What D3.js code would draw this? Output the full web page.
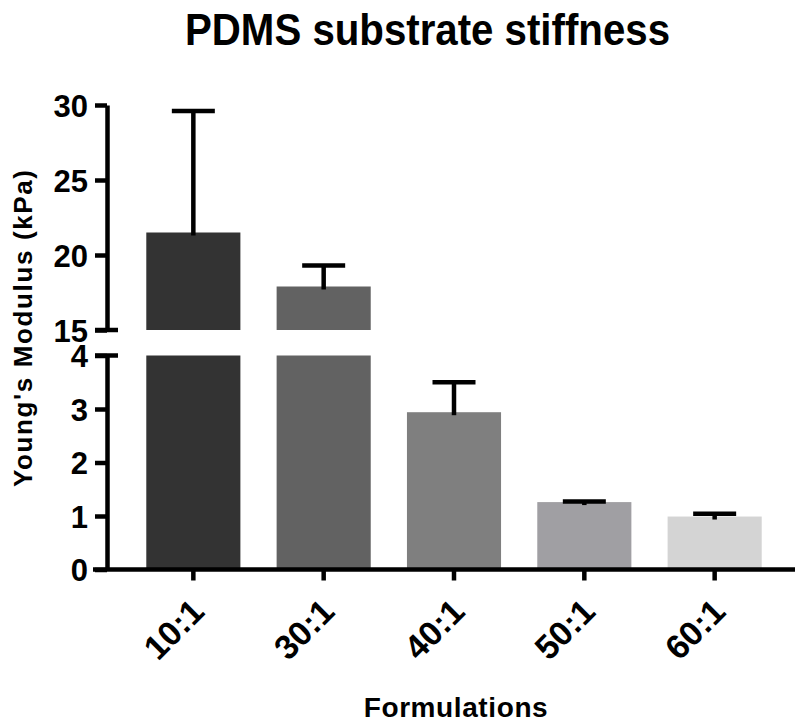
<!DOCTYPE html>
<html>
<head>
<meta charset="utf-8">
<script src="https://cdn.jsdelivr.net/npm/d3@7"></script>
<style>
  html, body { margin: 0; padding: 0; background: #fff; }
  text { font-family: "Liberation Sans", Arial, Helvetica, sans-serif; font-weight: bold; fill: #000; }
</style>
</head>
<body>
<svg id="chart" width="795" height="722"></svg>
<script>
// Young's modulus per PDMS base:curing-agent ratio (mean and SD, kPa)
const categories = ["10:1", "30:1", "40:1", "50:1", "60:1"];
const means = [21.5, 17.9, 2.94, 1.26, 0.99];
const errors = [8.1, 1.4, 0.56, 0.01, 0.05];
const barColors = ["#333333", "#626262", "#7f7f7f", "#a09fa3", "#d4d4d4"];
const lowerTicks = [0, 1, 2, 3, 4];
const upperTicks = [15, 20, 25, 30];

const svg = d3.select("#chart");
const axisX = 107;

// Broken y axis: two linear segments
const yLow = d3.scaleLinear().domain([0, 4]).range([569.5, 355.5]);
const yHigh = d3.scaleLinear().domain([15, 30]).range([330, 105]);

const x = d3.scaleBand()
  .domain(categories)
  .range([axisX, 801])
  .paddingInner(0.278)
  .paddingOuter(0.3015);

const data = categories.map((c, i) => ({ c, m: means[i], e: errors[i], color: barColors[i] }));

// Bars: lower segment 0..min(v,4), upper segment 15..v
const g = svg.append("g");
g.selectAll("rect.low").data(data).join("rect")
  .attr("class", "low")
  .attr("x", d => x(d.c))
  .attr("width", x.bandwidth())
  .attr("y", d => yLow(Math.min(d.m, 4)))
  .attr("height", d => yLow(0) - yLow(Math.min(d.m, 4)))
  .attr("fill", d => d.color);

g.selectAll("rect.high").data(data.filter(d => d.m > 15)).join("rect")
  .attr("class", "high")
  .attr("x", d => x(d.c))
  .attr("width", x.bandwidth())
  .attr("y", d => yHigh(d.m))
  .attr("height", d => yHigh(15) - yHigh(d.m))
  .attr("fill", d => d.color);

// Error bars (upper only)
const yOf = v => v >= 15 ? yHigh(v) : yLow(v);
const capW = 43;
const eb = svg.append("g").attr("stroke", "#000").attr("stroke-width", 4.5);
data.forEach(d => {
  const cx = x(d.c) + x.bandwidth() / 2;
  const top = yOf(d.m + d.e);
  eb.append("line").attr("x1", cx).attr("x2", cx)
    .attr("y1", yOf(d.m) + 3).attr("y2", top);
  eb.append("line").attr("x1", cx - capW / 2).attr("x2", cx + capW / 2)
    .attr("y1", top).attr("y2", top);
});

// Y axes
function yAxis(scale, ticks) {
  const a = svg.append("g").attr("transform", `translate(${axisX},0)`)
    .call(d3.axisLeft(scale).tickValues(ticks).tickFormat(d3.format("d"))
      .tickSize(12).tickPadding(7).tickSizeOuter(0));
  a.select(".domain").attr("stroke", "#000").attr("stroke-width", 4.5);
  a.selectAll(".tick line").attr("stroke", "#000").attr("stroke-width", 4.5);
  a.selectAll(".tick text").style("font-size", "31px").attr("dy", "0.36em");
  return a;
}
yAxis(yLow, lowerTicks);
yAxis(yHigh, upperTicks);

// Break caps: short horizontal ends on both segments
const caps = svg.append("g").attr("stroke", "#000").attr("stroke-width", 4.5);
[yHigh(15), yLow(4)].forEach(yy => {
  caps.append("line").attr("x1", axisX - 12).attr("x2", axisX + 11).attr("y1", yy).attr("y2", yy);
});

// X axis
const xa = svg.append("g").attr("transform", `translate(0,${yLow(0)})`)
  .call(d3.axisBottom(x).tickSize(11).tickSizeOuter(0));
xa.select(".domain").attr("stroke", "#000").attr("stroke-width", 4.5)
  .attr("d", `M${axisX - 14},0H801`);
xa.selectAll(".tick line").attr("stroke", "#000").attr("stroke-width", 4.5);
xa.selectAll(".tick text")
  .style("font-size", "34px")
  .attr("text-anchor", "end")
  .attr("y", 0)
  .attr("dy", "0")
  .attr("transform", "translate(12.7,44.2) rotate(-45)");

// Titles
svg.append("text")
  .attr("x", 427.5).attr("y", 45)
  .attr("text-anchor", "middle")
  .attr("textLength", 485)
  .attr("lengthAdjust", "spacingAndGlyphs")
  .style("font-size", "44px")
  .text("PDMS substrate stiffness");

svg.append("text")
  .attr("transform", "translate(32,328.5) rotate(-90)")
  .attr("text-anchor", "middle")
  .attr("textLength", 317)
  .attr("lengthAdjust", "spacing")
  .style("font-size", "26px")
  .text("Young's Modulus (kPa)");

svg.append("text")
  .attr("x", 456).attr("y", 716.5)
  .attr("text-anchor", "middle")
  .style("font-size", "28px")
  .style("letter-spacing", "0.6px")
  .text("Formulations");
</script>
</body>
</html>
